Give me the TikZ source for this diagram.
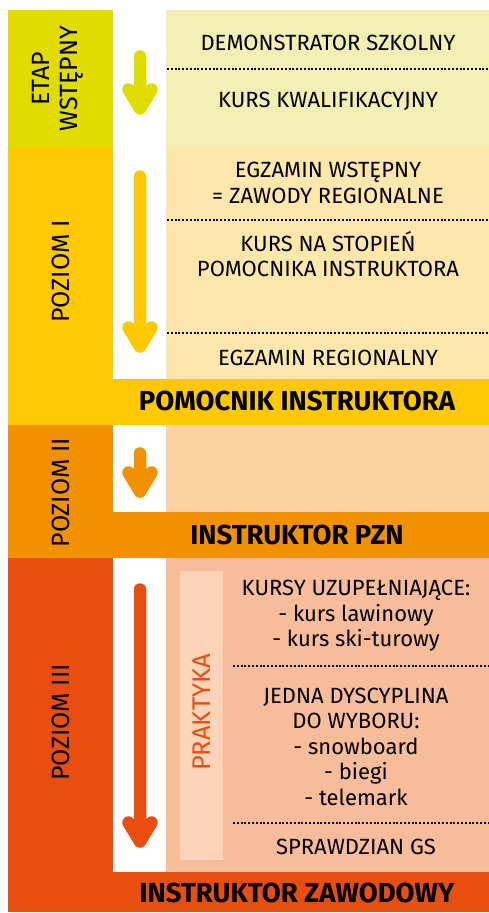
\documentclass[tikz,border=0pt]{standalone}
\usepackage{fontspec}
\setmainfont{Fira Sans}
\usepackage{tikz}
\usetikzlibrary{arrows,positioning}

\definecolor{etapdark}{HTML}{E0DC00}
\definecolor{etaplight}{HTML}{F2EFB4}
\definecolor{onedark}{HTML}{FFC800}
\definecolor{onelight}{HTML}{FEE7AA}
\definecolor{twodark}{HTML}{F29100}
\definecolor{twolight}{HTML}{FCD4A2}
\definecolor{threedark}{HTML}{E84E0F}
\definecolor{threelight}{HTML}{F7BD9A}
\definecolor{praktykabg}{HTML}{FAD3B8}

\begin{document}
\begin{tikzpicture}[x=1pt, y=-1pt]
\tikzset{
    mylevel/.style={rotate=90, align=center, inner sep=0pt, font=\fontsize{25}{28}\selectfont},
    mytext/.style={anchor=base, align=center, inner sep=0pt, font=\fontsize{22}{25.5}\selectfont},
    mytitle/.style={anchor=base, inner sep=0pt, font=\bfseries\fontsize{27.5}{30}\selectfont},
    myarrow/.style={line width=12.5pt, line cap=round, line join=round},
    mysep/.style={line width=2pt, dash pattern=on 2pt off 1.8pt}
}
\useasboundingbox (0,0) rectangle (489,913);

% coloured blocks
\fill[etapdark] (8,10) rectangle (113,147);
\fill[etaplight] (166,10) rectangle (489,147);
\fill[onedark] (8,147) rectangle (113,425);
\fill[onedark] (113,379) rectangle (489,425);
\fill[onelight] (166,147) rectangle (489,379);
\fill[twodark] (8,425) rectangle (113,558);
\fill[twodark] (113,512) rectangle (489,558);
\fill[twolight] (166,425) rectangle (489,512);
\fill[threedark] (8,558) rectangle (113,912);
\fill[threedark] (113,872) rectangle (489,912);
\fill[threelight] (166,558) rectangle (489,872);
\fill[praktykabg] (180,571) rectangle (223,860);

% dotted separators
\draw[mysep] (167,69) -- (489,69);
\draw[mysep] (167,220) -- (489,220);
\draw[mysep] (167,333) -- (489,333);
\draw[mysep] (233,666) -- (489,666);
\draw[mysep] (233,823) -- (489,823);

% levels
\node[mylevel] (etap) at (58,78.5) {ETAP\\WSTĘPNY};
\node[mylevel] (poz1) at (60.5,271.5) {POZIOM I};
\node[mylevel] (poz2) at (60.5,492.5) {POZIOM II};
\node[mylevel] (poz3) at (60.5,722.5) {POZIOM III};
\node[mylevel, text=threedark, font=\fontsize{25.5}{30}\selectfont] (praktyka) at (201.5,712.5) {PRAKTYKA};

% steps (multi-line texts sit on the baseline of their last line)
\node[mytext] (demo) at (328,50) {DEMONSTRATOR SZKOLNY};
\node[mytext] (kwal) at (328,107) {KURS KWALIFIKACYJNY};
\node[mytext] (egzwst) at (328,203.3) {EGZAMIN WSTĘPNY\\= ZAWODY REGIONALNE};
\node[mytext] (kurspom) at (328,276.7) {KURS NA STOPIEŃ\\POMOCNIKA INSTRUKTORA};
\node[mytext] (egzreg) at (328,365) {EGZAMIN REGIONALNY};
\node[mytext] (uzup) at (356,646.7) {KURSY UZUPEŁNIAJĄCE:\\- kurs lawinowy\\- kurs ski-turowy};
\node[mytext] (dysc) at (356,805) {JEDNA DYSCYPLINA\\DO WYBORU:\\- snowboard\\- biegi\\- telemark};
\node[mytext] (gs) at (356,854) {SPRAWDZIAN GS};

% titles
\node[mytitle] (pomocnik) at (297,410.7) {POMOCNIK INSTRUKTORA};
\node[mytitle] (pzn) at (297,544) {INSTRUKTOR PZN};
\node[mytitle] (zawodowy) at (297,902.7) {INSTRUKTOR ZAWODOWY};

% arrows
\coordinate (s0) at (140,56.5);  \coordinate (t0) at (140,108.5);
\coordinate (s1) at (140,176.5); \coordinate (t1) at (140,346.5);
\coordinate (s2) at (140,453.5); \coordinate (t2) at (140,491.5);
\coordinate (s3) at (140,589.5); \coordinate (t3) at (140,841.5);
\draw[myarrow, etapdark] (s0) -- (t0) (t0) ++(-11.5,-19) -- (t0) -- ++(11.5,-19);
\draw[myarrow, onedark] (s1) -- (t1) (t1) ++(-11.5,-19) -- (t1) -- ++(11.5,-19);
\draw[myarrow, twodark] (s2) -- (t2) (t2) ++(-11.5,-19) -- (t2) -- ++(11.5,-19);
\draw[myarrow, threedark] (s3) -- (t3) (t3) ++(-11.5,-19) -- (t3) -- ++(11.5,-19);

\end{tikzpicture}
\end{document}
